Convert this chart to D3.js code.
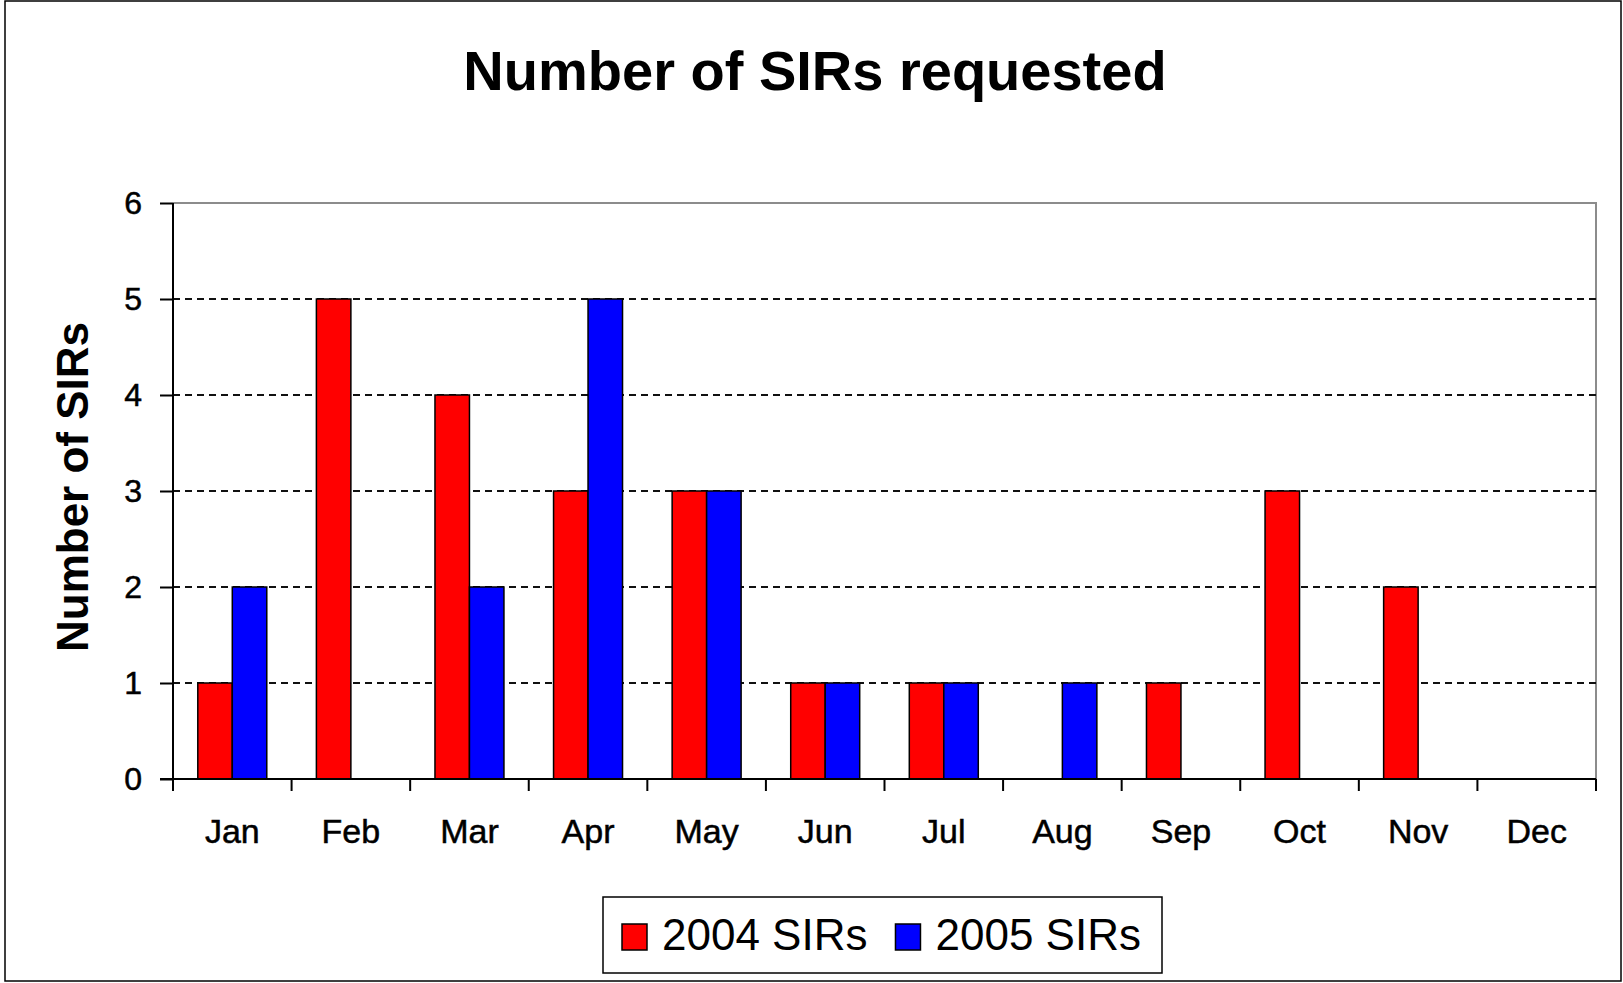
<!DOCTYPE html>
<html>
<head>
<meta charset="utf-8">
<script src="https://cdn.jsdelivr.net/npm/d3@7"></script>
<style>
    body { margin: 0; background: #fff; }
    svg { display: block; font-family: "Liberation Sans", Arial, sans-serif; }
</style>
</head>
<body>
<svg width="1623" height="983"></svg>
<script>
// chart values
var months = ["Jan", "Feb", "Mar", "Apr", "May", "Jun", "Jul", "Aug", "Sep", "Oct", "Nov", "Dec"];
var seriesNames = ["2004 SIRs", "2005 SIRs"];
var sirs2004 = [1, 5, 4, 3, 3, 1, 1, 0, 1, 3, 2, 0];
var sirs2005 = [2, 0, 2, 5, 3, 1, 1, 1, 0, 0, 0, 0];
var yTicks = [0, 1, 2, 3, 4, 5, 6];
var colors = ["#ff0000", "#0000ff"];

var svg = d3.select("svg"),
    margin = { top: 203, right: 27, bottom: 204, left: 173 },
    width = +svg.attr("width") - margin.left - margin.right,
    height = +svg.attr("height") - margin.top - margin.bottom;

// outer frame
svg.append("rect")
    .attr("x", 5).attr("y", 1)
    .attr("width", 1616).attr("height", 980)
    .attr("fill", "#fff")
    .attr("stroke", "#000")
    .attr("stroke-width", 1.5);

svg.append("text")
    .attr("x", 815)
    .attr("y", 90)
    .attr("text-anchor", "middle")
    .style("font-size", "56px")
    .style("font-weight", "bold")
    .text("Number of SIRs requested");

var x = d3.scaleBand().domain(months).range([0, width]).padding(0);
var x1 = d3.scaleBand().domain(seriesNames)
    .range([24.8, x.bandwidth() - 24.8]);
var y = d3.scaleLinear().domain([0, 6]).range([height, 0]);

var g = svg.append("g")
    .attr("transform", "translate(" + margin.left + "," + margin.top + ")");

// plot border (top/right grey)
g.append("path")
    .attr("d", "M0,0H" + width + "V" + height)
    .attr("fill", "none")
    .attr("stroke", "#8c8c8c")
    .attr("stroke-width", 2);

// dashed gridlines
g.selectAll(".grid")
    .data(yTicks.filter(function (d) { return d > 0 && d < 6; }))
    .enter().append("line")
    .attr("class", "grid")
    .attr("x1", 0).attr("x2", width)
    .attr("y1", function (d) { return y(d); })
    .attr("y2", function (d) { return y(d); })
    .attr("stroke", "#111")
    .attr("stroke-width", 2)
    .attr("stroke-dasharray", "7,5");

var data = months.map(function (m, i) {
    return { month: m, values: [sirs2004[i], sirs2005[i]] };
});

var groups = g.selectAll(".month")
    .data(data)
    .enter().append("g")
    .attr("class", "month")
    .attr("transform", function (d) { return "translate(" + x(d.month) + ",0)"; });

groups.selectAll("rect")
    .data(function (d) {
        return d.values.map(function (v, i) { return { key: seriesNames[i], value: v, idx: i }; })
            .filter(function (e) { return e.value > 0; });
    })
    .enter().append("rect")
    .attr("x", function (d) { return x1(d.key); })
    .attr("y", function (d) { return y(d.value); })
    .attr("width", x1.bandwidth())
    .attr("height", function (d) { return height - y(d.value); })
    .attr("fill", function (d) { return colors[d.idx]; })
    .attr("stroke", "#000")
    .attr("stroke-width", 1.5);

// y axis
var yAxis = g.append("g")
    .call(d3.axisLeft(y).tickValues(yTicks).tickSize(13).tickPadding(18).tickFormat(d3.format("d")));
yAxis.select(".domain").attr("stroke", "#000").attr("stroke-width", 2).attr("d", "M0,0V" + height);
yAxis.selectAll(".tick line").attr("stroke", "#000").attr("stroke-width", 2);
yAxis.selectAll("text")
    .style("font-size", "32px")
    .style("font-family", "\"Liberation Sans\", Arial, sans-serif")
    .attr("fill", "#000")
    .attr("stroke", "#000")
    .attr("stroke-width", 0.5);

// x axis: ticks at category boundaries
var xAxis = g.append("g").attr("transform", "translate(0," + height + ")");
xAxis.append("line")
    .attr("x1", -13).attr("x2", width)
    .attr("stroke", "#000").attr("stroke-width", 2);
xAxis.selectAll(".xtick")
    .data(months.concat(["end"]))
    .enter().append("line")
    .attr("class", "xtick")
    .attr("x1", function (d, i) { return i * x.bandwidth(); })
    .attr("x2", function (d, i) { return i * x.bandwidth(); })
    .attr("y1", 0).attr("y2", 12)
    .attr("stroke", "#000").attr("stroke-width", 2);
xAxis.selectAll(".xlabel")
    .data(months)
    .enter().append("text")
    .attr("class", "xlabel")
    .attr("x", function (d) { return x(d) + x.bandwidth() / 2; })
    .attr("y", 64)
    .attr("text-anchor", "middle")
    .attr("stroke", "#000")
    .attr("stroke-width", 0.5)
    .style("font-size", "34px")
    .text(function (d) { return d; });

// y axis title
svg.append("text")
    .attr("transform", "translate(88,487) rotate(-90)")
    .attr("text-anchor", "middle")
    .style("font-size", "44px")
    .style("font-weight", "bold")
    .text("Number of SIRs");

// legend
var legend = svg.append("g");
legend.append("rect")
    .attr("x", 603).attr("y", 897)
    .attr("width", 559).attr("height", 76)
    .attr("fill", "#fff")
    .attr("stroke", "#000")
    .attr("stroke-width", 1.5);

var lx = 622;
seriesNames.forEach(function (name, i) {
    legend.append("rect")
        .attr("x", lx).attr("y", 924)
        .attr("width", 25).attr("height", 26)
        .attr("fill", colors[i])
        .attr("stroke", "#000")
        .attr("stroke-width", 1.5);
    var t = legend.append("text")
        .attr("x", lx + 40)
        .attr("y", 950)
        .style("font-size", "44px")
        .text(name);
    lx = lx + 40 + t.node().getComputedTextLength() + 28;
});
</script>
</body>
</html>
